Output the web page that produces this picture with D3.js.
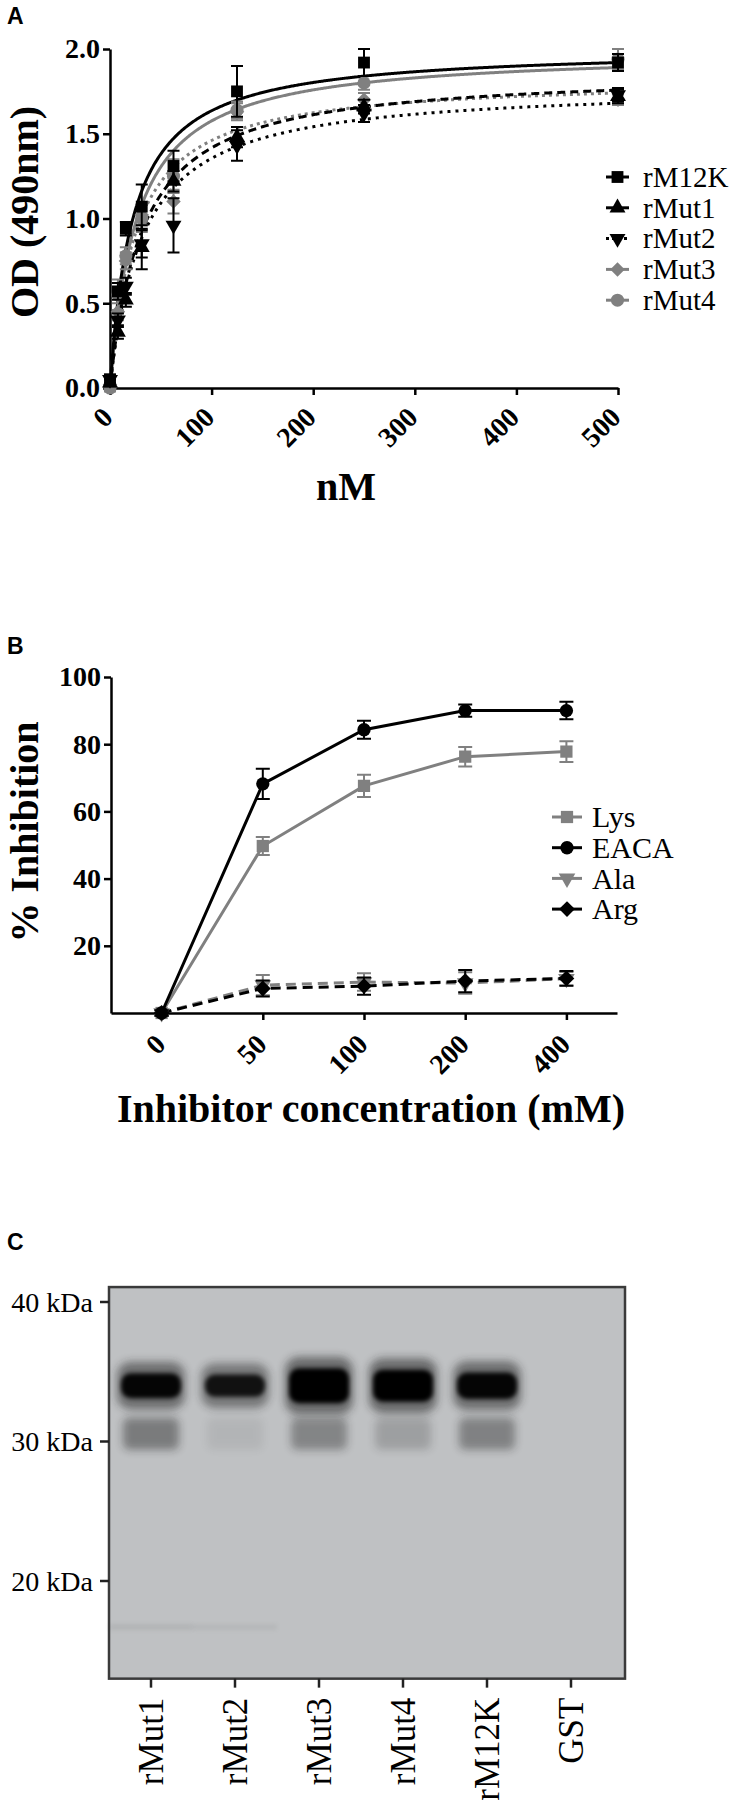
<!DOCTYPE html>
<html>
<head>
<meta charset="utf-8">
<script src="https://cdn.jsdelivr.net/npm/d3@7"></script>
<style>
  body { margin: 0; background: #fff; }
  text { font-family: "Liberation Serif", "Times New Roman", serif; }
</style>
</head>
<body>
<div id="fig"></div>
<script>
// ---- panel A: binding curves (OD 490nm vs nM)
var concA = [0, 7.8, 15.6, 31.25, 62.5, 125, 250, 500];
var seriesA = ["rM12K", "rMut1", "rMut2", "rMut3", "rMut4"];
var odM12K = [0.05, 0.57, 0.94, 1.07, 1.31, 1.75, 1.92, 1.92];
var odMut1 = [0.03, 0.33, 0.52, 0.83, 1.22, 1.48, 1.66, 1.72];
var odMut2 = [0.05, 0.40, 0.60, 0.85, 0.96, 1.43, 1.62, 1.73];
var odMut3 = [0.02, 0.45, 0.75, 1.02, 1.10, 1.63, 1.70, 1.70];
var odMut4 = [0.00, 0.55, 0.78, 1.00, 1.25, 1.64, 1.80, 1.94];
var errM12K = [0.03, 0.05, 0.04, 0.13, 0.09, 0.15, 0.08, 0.05];
var errMut1 = [0.02, 0.04, 0.04, 0.13, 0.06, 0.06, 0.04, 0.04];
var errMut2 = [0.02, 0.04, 0.05, 0.08, 0.16, 0.09, 0.05, 0.04];
var errMut3 = [0.02, 0.05, 0.05, 0.06, 0.07, 0.05, 0.04, 0.03];
var errMut4 = [0.02, 0.09, 0.05, 0.08, 0.10, 0.05, 0.04, 0.06];
// one-site fit
var fitBmax = [2.007, 1.87, 1.787, 1.828, 1.99];
var fitKd = [22.7, 32, 31.9, 25.2, 26.3];
var ticksA_x = [0, 100, 200, 300, 400, 500];
var ticksA_y = [0, 0.5, 1.0, 1.5, 2.0];

// ---- panel B: % inhibition
var inhibitorConc = ["0", "50", "100", "200", "400"];
var seriesB = ["Lys", "EACA", "Ala", "Arg"];
var inhLys = [0, 49.7, 67.6, 76.3, 77.8];
var inhEACA = [0, 68.2, 84.3, 90.0, 90.0];
var inhAla = [0, 8.3, 9.2, 8.9, 10.2];
var inhArg = [0, 7.3, 8.0, 9.5, 10.3];
var errLys = [0.8, 2.7, 3.3, 2.9, 3.1];
var errEACA = [0.8, 4.5, 2.7, 1.8, 2.6];
var errAla = [0.8, 3.0, 2.6, 3.2, 2.0];
var errArg = [0.8, 2.4, 2.6, 3.3, 2.2];
var ticksB_y = [20, 40, 60, 80, 100];

// ---- panel C: western blot
var lanes = ["rMut1", "rMut2", "rMut3", "rMut4", "rM12K", "GST"];
var markerKDa = [40, 30, 20];
var mainBandKDa = 34.0;
var mainBand = [0.95, 0.85, 1.0, 1.0, 0.95, 0];
var mainBandThick = [2.4, 2.2, 3.1, 2.9, 2.5, 0];
var lowerBandKDa = 30.6;
var lowerBand = [0.42, 0.07, 0.36, 0.2, 0.38, 0];
var faintBandKDa = 16.7;
var faintBand = [0.12, 0.09, 0, 0, 0, 0];

var black = "#000", gray = "#808080";

var svg = d3.select("#fig")
  .append("svg")
    .attr("width", 750)
    .attr("height", 1807);

var defs = svg.append("defs");
defs.append("filter").attr("id", "blur4").attr("x", "-50%").attr("y", "-100%").attr("width", "200%").attr("height", "300%")
  .append("feGaussianBlur").attr("stdDeviation", 4);
defs.append("filter").attr("id", "blur2").attr("x", "-50%").attr("y", "-100%").attr("width", "200%").attr("height", "300%")
  .append("feGaussianBlur").attr("stdDeviation", 2.2);

function styleAxis(g, size) {
  g.select(".domain").attr("stroke", black).attr("stroke-width", 2.5);
  g.selectAll(".tick line").attr("stroke", black).attr("stroke-width", 2.5);
  g.selectAll(".tick text")
    .attr("fill", black)
    .style("font-family", "'Liberation Serif', 'Times New Roman', serif")
    .style("font-weight", "bold")
    .style("font-size", size + "px");
}

function panelLetter(t, y) {
  svg.append("text").attr("x", 7).attr("y", y).text(t)
    .style("font-family", "'Liberation Sans', Arial, sans-serif")
    .style("font-weight", "bold").style("font-size", "23px");
}

// ================= panel A
panelLetter("A", 24);

var xA = d3.scaleLinear().domain([0, 500]).range([110, 618]);
var yA = d3.scaleLinear().domain([0, 2]).range([388, 49]);

var gA = svg.append("g");
gA.append("g")
  .attr("transform", "translate(0," + yA(0) + ")")
  .call(d3.axisBottom(xA).tickValues(ticksA_x).tickSize(7).tickSizeOuter(0))
  .call(function(g) {
    styleAxis(g, 28);
    g.selectAll(".tick text")
      .attr("x", 0).attr("y", 0).attr("dy", 0)
      .attr("text-anchor", "end")
      .attr("transform", "translate(4,31) rotate(-45)");
  });
gA.append("g")
  .attr("transform", "translate(" + xA(0) + ",0)")
  .call(d3.axisLeft(yA).tickValues(ticksA_y).tickFormat(d3.format(".1f")).tickSize(7).tickSizeOuter(0))
  .call(function(g) { styleAxis(g, 28); });

svg.append("text").attr("x", 346).attr("y", 500).attr("text-anchor", "middle")
  .text("nM").style("font-weight", "bold").style("font-size", "40px");
svg.append("text").attr("transform", "translate(38,212) rotate(-90)").attr("text-anchor", "middle")
  .text("OD (490nm)").style("font-weight", "bold").style("font-size", "40px");

var valsA = [odM12K, odMut1, odMut2, odMut3, odMut4];
var errsA = [errM12K, errMut1, errMut2, errMut3, errMut4];
var colorA = [black, black, black, gray, gray];
var dashA = [null, "8,5", "3,5", "3,4", null];
var symA = [d3.symbolSquare, d3.symbolTriangle, d3.symbolTriangle, d3.symbolSquare, d3.symbolCircle];
var rotA = [0, 0, 180, 45, 0];
var sizeA = [140, 110, 110, 105, 135];
var orderA = [4, 3, 1, 2, 0]; // gray underneath black

var fitLine = d3.line().x(function(d) { return xA(d[0]); }).y(function(d) { return yA(d[1]); });
var fitX = d3.range(0, 501, 1);

orderA.forEach(function(i) {
  var pts = fitX.map(function(c) { return [c, fitBmax[i] * c / (fitKd[i] + c)]; });
  gA.append("path")
    .datum(pts)
    .attr("fill", "none")
    .attr("stroke", colorA[i])
    .attr("stroke-width", 3)
    .attr("stroke-dasharray", dashA[i])
    .attr("d", fitLine);
});

orderA.forEach(function(i) {
  var data = concA.map(function(c, j) { return {x: c, y: valsA[i][j], e: errsA[i][j]}; });
  var g = gA.append("g").attr("stroke", colorA[i]).attr("fill", colorA[i]);
  g.selectAll(".eb").data(data).enter().append("path")
    .attr("fill", "none").attr("stroke-width", 2)
    .attr("d", function(d) {
      var x = xA(d.x), y0 = yA(d.y - d.e), y1 = yA(d.y + d.e);
      return "M" + (x - 6) + "," + y0 + "H" + (x + 6) + "M" + x + "," + y0 + "V" + y1 + "M" + (x - 6) + "," + y1 + "H" + (x + 6);
    });
  g.selectAll(".pt").data(data).enter().append("path")
    .attr("stroke", "none")
    .attr("transform", function(d) { return "translate(" + xA(d.x) + "," + yA(d.y) + ") rotate(" + rotA[i] + ")"; })
    .attr("d", d3.symbol().type(symA[i]).size(sizeA[i]));
});

// legend A
seriesA.forEach(function(name, i) {
  var y = 177 + i * 30.8;
  var g = svg.append("g");
  g.append("line").attr("x1", 606).attr("x2", 629).attr("y1", y).attr("y2", y)
    .attr("stroke", colorA[i]).attr("stroke-width", 3).attr("stroke-dasharray", i == 2 ? "3,3" : null);
  g.append("path").attr("fill", colorA[i])
    .attr("transform", "translate(617.5," + y + ") rotate(" + rotA[i] + ")")
    .attr("d", d3.symbol().type(symA[i]).size(sizeA[i]));
  g.append("text").attr("x", 643).attr("y", y).attr("dy", "0.34em").text(name)
    .style("font-size", "29px");
});

// ================= panel B
panelLetter("B", 654);

var xB = d3.scalePoint().domain(inhibitorConc).range([111, 617]).padding(0.5);
var yB = d3.scaleLinear().domain([0, 100]).range([1013, 677]);

var gB = svg.append("g");
gB.append("g")
  .attr("transform", "translate(0," + yB(0) + ")")
  .call(d3.axisBottom(xB).tickSize(7).tickSizeOuter(0))
  .call(function(g) {
    styleAxis(g, 28);
    g.selectAll(".tick text")
      .attr("x", 0).attr("y", 0).attr("dy", 0)
      .attr("text-anchor", "end")
      .attr("transform", "translate(5,33) rotate(-45)");
  });
gB.append("g")
  .attr("transform", "translate(111,0)")
  .call(d3.axisLeft(yB).tickValues(ticksB_y).tickSize(7).tickSizeOuter(0))
  .call(function(g) { styleAxis(g, 28); });

svg.append("text").attr("x", 371).attr("y", 1122).attr("text-anchor", "middle")
  .text("Inhibitor concentration (mM)").style("font-weight", "bold").style("font-size", "40px");
svg.append("text").attr("transform", "translate(38,832) rotate(-90)").attr("text-anchor", "middle")
  .text("% Inhibition").style("font-weight", "bold").style("font-size", "40px");

var valsB = [inhLys, inhEACA, inhAla, inhArg];
var errsB = [errLys, errEACA, errAla, errArg];
var colorB = [gray, black, gray, black];
var dashB = [null, null, "10,6", "10,6"];
var symB = [d3.symbolSquare, d3.symbolCircle, d3.symbolTriangle, d3.symbolSquare];
var rotB = [0, 0, 180, 45];
var sizeB = [150, 140, 120, 125];
var orderB = [2, 3, 0, 1];

var lineB = d3.line().x(function(d) { return xB(d.x); }).y(function(d) { return yB(d.y); });

orderB.forEach(function(i) {
  var data = inhibitorConc.map(function(c, j) { return {x: c, y: valsB[i][j], e: errsB[i][j]}; });
  var g = gB.append("g").attr("stroke", colorB[i]).attr("fill", colorB[i]);
  g.append("path").datum(data)
    .attr("fill", "none").attr("stroke-width", 3)
    .attr("stroke-dasharray", dashB[i])
    .attr("d", lineB);
  g.selectAll(".eb").data(data).enter().append("path")
    .attr("fill", "none").attr("stroke-width", 2)
    .attr("d", function(d) {
      var x = xB(d.x), y0 = yB(d.y - d.e), y1 = yB(d.y + d.e);
      return "M" + (x - 7) + "," + y0 + "H" + (x + 7) + "M" + x + "," + y0 + "V" + y1 + "M" + (x - 7) + "," + y1 + "H" + (x + 7);
    });
  g.selectAll(".pt").data(data).enter().append("path")
    .attr("stroke", "none")
    .attr("transform", function(d) { return "translate(" + xB(d.x) + "," + yB(d.y) + ") rotate(" + rotB[i] + ")"; })
    .attr("d", d3.symbol().type(symB[i]).size(sizeB[i]));
});

// legend B
seriesB.forEach(function(name, i) {
  var y = 817 + i * 30.7;
  var g = svg.append("g");
  g.append("line").attr("x1", 552).attr("x2", 582).attr("y1", y).attr("y2", y)
    .attr("stroke", colorB[i]).attr("stroke-width", 3);
  g.append("path").attr("fill", colorB[i])
    .attr("transform", "translate(567," + y + ") rotate(" + rotB[i] + ")")
    .attr("d", d3.symbol().type(symB[i]).size(sizeB[i]));
  g.append("text").attr("x", 592).attr("y", y).attr("dy", "0.34em").text(name)
    .style("font-size", "30px");
});

// ================= panel C
panelLetter("C", 1250);

var xC = d3.scalePoint().domain(lanes).range([151, 571]);
var yC = d3.scaleLinear().domain([40, 20]).range([1302, 1581]);
var gelTop = yC(41.07), gelBottom = yC(13.0);

var gC = svg.append("g");
gC.append("rect")
  .attr("x", 109).attr("y", gelTop)
  .attr("width", 516).attr("height", gelBottom - gelTop)
  .attr("fill", "#bfc1c3");

var bandW = 64;
// lower doublet / faint low band / main band
lanes.forEach(function(l, i) {
  var cx = xC(l);
  if (lowerBand[i] > 0) {
    gC.append("rect")
      .attr("x", cx - bandW / 2 + 4).attr("y", yC(lowerBandKDa + 1.1))
      .attr("width", bandW - 8).attr("height", yC(lowerBandKDa - 1.2) - yC(lowerBandKDa + 1.1))
      .attr("rx", 6)
      .attr("fill", "#1a1a1a").attr("opacity", lowerBand[i])
      .attr("filter", "url(#blur4)");
  }
  if (faintBand[i] > 0) {
    gC.append("rect")
      .attr("x", cx - bandW / 2 - 10).attr("y", yC(faintBandKDa + 0.2))
      .attr("width", bandW + 20).attr("height", yC(faintBandKDa - 0.2) - yC(faintBandKDa + 0.2))
      .attr("fill", "#555").attr("opacity", faintBand[i])
      .attr("filter", "url(#blur2)");
  }
  if (mainBand[i] > 0) {
    var t = mainBandThick[i];
    gC.append("rect")
      .attr("x", cx - bandW / 2 - 2).attr("y", yC(mainBandKDa + t / 2 + 0.5))
      .attr("width", bandW + 4).attr("height", yC(mainBandKDa - t / 2 - 0.5) - yC(mainBandKDa + t / 2 + 0.5))
      .attr("rx", 14)
      .attr("fill", "#222").attr("opacity", 0.55 * mainBand[i])
      .attr("filter", "url(#blur4)");
    gC.append("rect")
      .attr("x", cx - bandW / 2 + 2).attr("y", yC(mainBandKDa + t / 2 - 0.3))
      .attr("width", bandW - 4).attr("height", yC(mainBandKDa - t / 2 + 0.3) - yC(mainBandKDa + t / 2 - 0.3))
      .attr("rx", 10)
      .attr("fill", "#050505").attr("opacity", mainBand[i])
      .attr("filter", "url(#blur2)");
  }
});

gC.append("rect")
  .attr("x", 109).attr("y", gelTop)
  .attr("width", 516).attr("height", gelBottom - gelTop)
  .attr("fill", "none").attr("stroke", "#3a3a3a").attr("stroke-width", 2.5);

// size markers
gC.selectAll(".kda").data(markerKDa).enter().append("g")
  .each(function(k) {
    var g = d3.select(this);
    g.append("line").attr("x1", 100).attr("x2", 109).attr("y1", yC(k)).attr("y2", yC(k))
      .attr("stroke", "#222").attr("stroke-width", 2.5);
    g.append("text").attr("x", 93).attr("y", yC(k)).attr("dy", "0.35em")
      .attr("text-anchor", "end").text(k + " kDa")
      .style("font-size", "28px");
  });

// lane labels
gC.selectAll(".lane").data(lanes).enter().append("g")
  .each(function(l) {
    var g = d3.select(this);
    g.append("line").attr("x1", xC(l)).attr("x2", xC(l)).attr("y1", gelBottom).attr("y2", gelBottom + 9)
      .attr("stroke", "#222").attr("stroke-width", 2.5);
    g.append("text")
      .attr("transform", "translate(" + xC(l) + "," + (gelBottom + 19) + ") rotate(-90)")
      .attr("dy", "0.35em")
      .attr("text-anchor", "end").text(l)
      .style("font-size", "35px");
  });
</script>
</body>
</html>
